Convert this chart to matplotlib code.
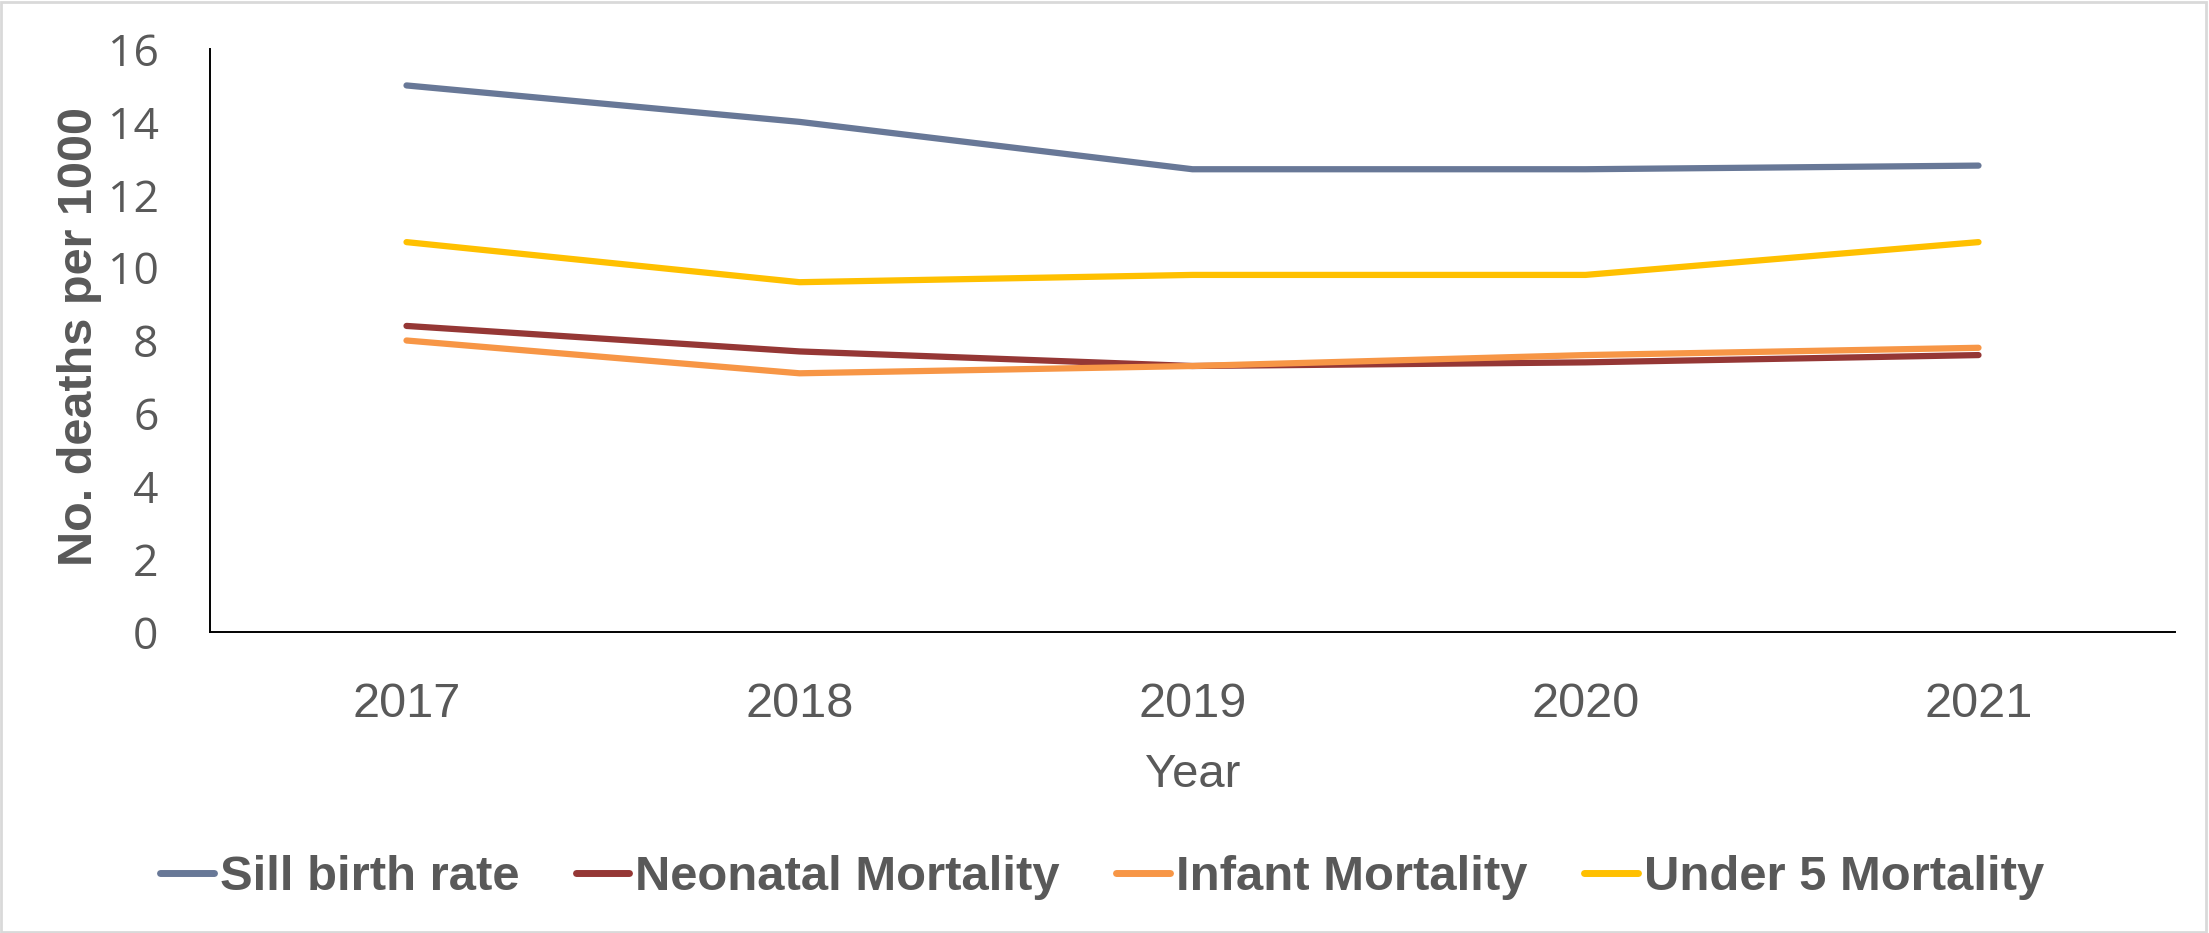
import matplotlib.pyplot as plt
from matplotlib.patches import Rectangle

years = ["2017", "2018", "2019", "2020", "2021"]
stillbirth = [15.0, 14.0, 12.7, 12.7, 12.8]
neonatal = [8.4, 7.7, 7.3, 7.4, 7.6]
infant = [8.0, 7.1, 7.3, 7.6, 7.8]
under5 = [10.7, 9.6, 9.8, 9.8, 10.7]

series_names = ["Sill birth rate", "Neonatal Mortality", "Infant Mortality", "Under 5 Mortality"]
series_values = [stillbirth, neonatal, infant, under5]
colors = ["#687897", "#953735", "#F79646", "#FFC000"]

TEXT = "#595959"
SANS = ["Liberation Sans", "DejaVu Sans"]

fig = plt.figure(figsize=(22.09, 9.33), dpi=100)
ax = fig.add_axes([210 / 2209, 1 - 632 / 933, (2175 - 210) / 2209, (632 - 49) / 933])

for name, vals, c in zip(series_names, series_values, colors):
    ax.plot(years, vals, color=c, lw=4.5, label=name, solid_capstyle="round")

ax.set_xlim(-0.5, 4.5)
ax.set_ylim(0, 16)
ax.set_yticks(range(0, 17, 2))

for side in ["top", "right"]:
    ax.spines[side].set_visible(False)
for side in ["left", "bottom"]:
    ax.spines[side].set_linewidth(1.4)
    ax.spines[side].set_color("black")

ax.tick_params(axis="both", length=0, colors=TEXT)
ax.tick_params(axis="y", pad=37)
ax.tick_params(axis="x", pad=36)
for lab in ax.get_yticklabels():
    lab.set_family("Open Sans")
    lab.set_fontsize(32)
for lab in ax.get_xticklabels():
    lab.set_family(SANS)
    lab.set_fontsize(35)

ax.set_xlabel("Year", family=SANS, fontsize=34, color=TEXT, labelpad=19)
fig.text(80 / 2209, 1 - 337 / 933, "No. deaths per 1000", rotation=90, ha="center", va="center",
         family=SANS, fontsize=35, fontweight="bold", color=TEXT)

leg = fig.legend(loc="center", bbox_to_anchor=(1102 / 2209, 1 - 878 / 933), ncol=4, frameon=False,
                 handlelength=1.1, handletextpad=0.12, columnspacing=1.15,
                 prop={"family": SANS, "size": 35.3, "weight": "bold"})
for t in leg.get_texts():
    t.set_color(TEXT)
for h in leg.legend_handles:
    h.set_linewidth(5)

fig.patches.append(Rectangle((0.0005, 0.001), 0.998, 0.997, transform=fig.transFigure,
                             fill=False, edgecolor="#d9d9d9", lw=2))

fig.savefig("out.png", dpi=100)
